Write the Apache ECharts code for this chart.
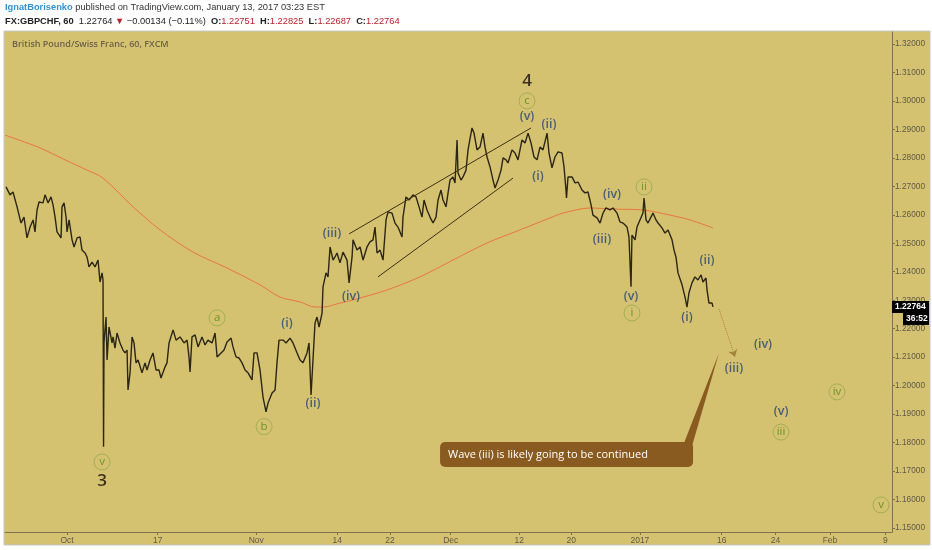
<!DOCTYPE html>
<html><head><meta charset="utf-8">
<script src="https://cdn.jsdelivr.net/npm/echarts@6/dist/echarts.min.js"></script>
<style>html,body{margin:0;padding:0;background:#fff}#c{width:932px;height:550px}</style>
</head><body><div id="c"></div><script>
// trading-day index (0 = Oct 3, 2016) and hourly price samples
const priceDays = [-6.93,-6.48,-6.14,-5.68,-5.23,-4.89,-4.55,-4.20,-3.86,-3.64,-3.41,-3.18,-2.73,-2.50,-2.16,-1.82,-1.59,-1.36,-1.14,-0.68,-0.57,-0.34,-0.11,0,0.23,0.57,0.80,1.14,1.48,1.70,2.05,2.27,2.50,2.84,3.18,3.52,3.75,3.98,4.09,4.15,4.20,4.43,4.55,4.77,5.11,5.23,5.45,5.68,6.02,6.36,6.59,6.82,6.93,7.16,7.39,7.61,7.84,8.07,8.52,8.86,9.09,9.43,9.77,10.11,10.45,10.68,11.14,11.36,11.59,12.05,12.39,12.84,13.30,13.64,13.86,13.98,14.20,14.55,14.89,15.34,15.68,16.02,16.48,16.82,17.05,17.50,17.84,18.18,18.64,18.86,19.20,19.55,19.89,20.23,20.57,21.02,21.25,21.59,21.93,22.27,22.61,22.84,23.30,23.64,23.86,24.09,24.55,24.89,25.34,25.68,26.14,26.48,26.82,27.27,27.50,27.73,27.95,28.18,28.41,28.64,28.98,29.09,29.43,29.66,29.89,30.23,30.45,30.68,31.02,31.36,31.82,32.05,32.39,32.50,32.95,33.30,33.64,34.09,34.43,34.77,35.00,35.23,35.57,35.91,36.25,36.48,36.93,37.27,37.61,38.07,38.18,38.52,38.86,39.32,39.66,40.00,40.34,40.57,40.91,41.25,41.59,41.93,42.16,42.50,42.73,43.07,43.30,43.52,43.86,44.09,44.32,44.43,44.77,45.00,45.34,45.57,46.02,46.25,46.59,46.93,47.27,47.50,47.73,48.07,48.41,48.64,48.98,49.32,49.55,49.89,50.11,50.57,50.91,51.25,51.70,52.05,52.39,52.73,53.07,53.41,53.75,54.09,54.55,54.77,55.11,55.45,55.80,56.25,56.48,56.70,56.76,56.93,57.39,57.73,58.07,58.52,58.86,59.20,59.55,59.77,60.23,60.57,60.91,61.25,61.70,62.05,62.50,62.84,63.18,63.64,63.86,64.09,64.20,64.55,64.77,65.11,65.45,65.57,65.80,66.02,66.36,66.59,66.93,67.16,67.61,67.95,68.30,68.75,68.98,69.20,69.43,69.89,70.23,70.45,70.68,71.02,71.36,71.70,72.05,72.27,72.61,72.73,72.95,73.30,73.41];
const priceValues = [1.2698,1.2670,1.2680,1.2628,1.2571,1.2592,1.2519,1.2557,1.2582,1.2540,1.2617,1.2645,1.2642,1.2670,1.2642,1.2663,1.2635,1.2592,1.2540,1.2519,1.2628,1.2642,1.2592,1.2540,1.2582,1.2512,1.2487,1.2519,1.2522,1.2476,1.2466,1.2452,1.2417,1.2434,1.2417,1.2441,1.2364,1.2396,1.2371,1.1785,1.2150,1.2241,1.2090,1.2206,1.2150,1.2171,1.2132,1.2185,1.2150,1.2125,1.2115,1.2125,1.1985,1.2045,1.2171,1.2150,1.2080,1.2090,1.2045,1.2080,1.2055,1.2090,1.2115,1.2055,1.2055,1.2027,1.2066,1.2080,1.2150,1.2196,1.2160,1.2171,1.2150,1.2160,1.2101,1.2048,1.2171,1.2178,1.2136,1.2171,1.2143,1.2160,1.2150,1.2185,1.2101,1.2115,1.2125,1.2153,1.2167,1.2136,1.2101,1.2097,1.2080,1.2055,1.2045,1.2020,1.2115,1.2115,1.2055,1.1960,1.1908,1.1939,1.1974,1.1985,1.2080,1.2160,1.2160,1.2150,1.2167,1.2150,1.2115,1.2090,1.2080,1.2115,1.2150,1.1967,1.2090,1.2220,1.2241,1.2206,1.2255,1.2347,1.2396,1.2382,1.2487,1.2441,1.2452,1.2466,1.2431,1.2469,1.2441,1.2361,1.2452,1.2512,1.2476,1.2487,1.2441,1.2487,1.2505,1.2512,1.2557,1.2466,1.2476,1.2441,1.2582,1.2610,1.2606,1.2571,1.2557,1.2522,1.2592,1.2663,1.2652,1.2670,1.2663,1.2628,1.2592,1.2652,1.2617,1.2592,1.2571,1.2592,1.2652,1.2687,1.2652,1.2628,1.2677,1.2722,1.2733,1.2712,1.2863,1.2747,1.2722,1.2733,1.2757,1.2828,1.2905,1.2887,1.2828,1.2838,1.2887,1.2838,1.2803,1.2768,1.2722,1.2694,1.2722,1.2757,1.2800,1.2793,1.2782,1.2828,1.2817,1.2793,1.2863,1.2852,1.2887,1.2852,1.2803,1.2793,1.2838,1.2828,1.2887,1.2817,1.2765,1.2803,1.2821,1.2817,1.2768,1.2687,1.2659,1.2733,1.2733,1.2712,1.2715,1.2687,1.2677,1.2680,1.2635,1.2599,1.2589,1.2571,1.2606,1.2624,1.2617,1.2624,1.2606,1.2575,1.2571,1.2557,1.2522,1.2347,1.2529,1.2512,1.2557,1.2582,1.2606,1.2659,1.2582,1.2571,1.2592,1.2606,1.2582,1.2571,1.2554,1.2536,1.2547,1.2512,1.2476,1.2452,1.2396,1.2354,1.2311,1.2276,1.2326,1.2361,1.2382,1.2371,1.2389,1.2364,1.2378,1.2336,1.2290,1.2290,1.22764];
const maDays = [-7.05,-3.07,-0.23,2.27,4.09,7.50,10.57,14.32,18.18,21.93,24.20,26.48,28.18,29.09,31.02,32.50,36.36,40.11,43.86,47.73,51.48,54.89,56.36,59.43,62.05,65.45,68.52,70.80,73.41];
const maValues = [1.2880,1.2835,1.2793,1.2757,1.2729,1.2628,1.2547,1.2469,1.2413,1.2354,1.2311,1.2294,1.2276,1.2276,1.2290,1.2301,1.2336,1.2382,1.2441,1.2501,1.2547,1.2589,1.2606,1.2624,1.2620,1.2617,1.2599,1.2582,1.2554];
const xTickDays = [0,10.3,21.5,30.7,36.7,43.6,51.4,57.3,65.1,74.4,80.5,86.7,93];
const xTickLabels = ['Oct','17','Nov','14','22','Dec','12','20','2017','16','24','Feb','9'];
const yTicks = [1.15,1.16,1.17,1.18,1.19,1.20,1.21,1.22,1.23,1.24,1.25,1.26,1.27,1.28,1.29,1.30,1.31,1.32];
const blueLabels = [['(v)',52.27,1.2944],['(ii)',54.77,1.2919],['(i)',53.52,1.2733],['(iii)',30.11,1.2536],['(iv)',32.27,1.2315],['(i)',25.00,1.2217],['(ii)',27.95,1.1936],['(iv)',61.93,1.2670],['(iii)',60.80,1.2512],['(v)',64.09,1.2315],['(i)',70.45,1.2238],['(ii)',72.73,1.2438],['(iii)',75.80,1.2059],['(iv)',79.09,1.2146],['(v)',81.14,1.1911]];
const greenLabels = [['c',52.27,1.3000],['a',17.05,1.2238],['b',22.39,1.1856],['v',3.98,1.1732],['ii',65.57,1.2698],['i',64.20,1.2255],['iii',81.14,1.1837],['iv',87.50,1.1978],['v',92.50,1.1581]];
const bigLabels = [['4',52.27,1.3070],['3',3.98,1.1665]];
const channelUpper = [[32.05,1.2533],[52.73,1.2905]];
const channelLower = [[35.34,1.2382],[50.68,1.2729]];
const arrowPath = [[74.09,1.2269],[75.91,1.2101]];
const calloutText = 'Wave (iii) is likely going to be continued';
const calloutBox = [42.39,1.1802,71.14,1.1714]; // left day, top price, right day, bottom price
const calloutTip = [74.09,1.2115];
const lastPrice = 1.22764;
const countdown = '36:52';

const GOLD = '#d5c270', AXIS = '#7b7253', LBL = '#5f5a48';
const chart = echarts.init(document.getElementById('c'));
const zip = (a,b) => a.map((v,i)=>[v,b[i]]);
const HF = '9.3px "Liberation Sans"', HFB = 'bold 9.3px "Liberation Sans"';
const baseGraphic = [
  {id:'pane',type:'rect',z:-10,silent:true,shape:{x:4,y:31,width:926,height:514},style:{fill:GOLD,stroke:'#c4c7cf',lineWidth:1}},
  {id:'h1',type:'text',left:5,top:3,silent:true,style:{font:HF,fill:'#333',
    text:'{u|IgnatBorisenko} published on TradingView.com, January 13, 2017 03:23 EST',
    rich:{u:{fill:'#2f93d6',font:HFB}}}},
  {id:'h2',type:'text',left:5,top:17,silent:true,style:{font:HF,fill:'#222',
    text:'{b|FX:GBPCHF, 60}  1.22764 {r|▼} −0.00134 (−0.11%)  {b|O:}{r|1.22751}  {b|H:}{r|1.22825}  {b|L:}{r|1.22687}  {b|C:}{r|1.22764}',
    rich:{b:{font:HFB,fill:'#222'},r:{font:HF,fill:'#b8202c'}}}},
  {id:'pt',type:'text',left:12,top:40,silent:true,style:{text:'British Pound/Swiss Franc, 60, FXCM',font:'600 9px "Open Sans"',fill:'#6b6345'}}
];
chart.setOption({
  backgroundColor:'#ffffff',
  animation:false,
  grid:{left:5,right:40,top:32,bottom:18},
  xAxis:{type:'value',min:-7.05,max:93.75,splitLine:{show:false},
    axisLine:{onZero:false,lineStyle:{color:AXIS}},
    axisTick:{show:true,length:3,lineStyle:{color:AXIS},customValues:xTickDays},
    axisLabel:{customValues:xTickDays,color:LBL,fontSize:8.5,fontFamily:'Liberation Sans',margin:4,
      formatter:v=>{let bi=0;xTickDays.forEach((d,i)=>{if(Math.abs(d-v)<Math.abs(xTickDays[bi]-v))bi=i;});return xTickLabels[bi];}}},
  yAxis:{type:'value',position:'right',min:1.1486,max:1.3242,scale:true,splitLine:{show:false},
    axisLine:{show:true,onZero:false,lineStyle:{color:AXIS}},
    axisTick:{show:true,length:3,lineStyle:{color:AXIS},customValues:yTicks},
    axisLabel:{customValues:yTicks,color:LBL,fontSize:8.3,fontFamily:'Liberation Sans',margin:3,formatter:v=>v.toFixed(5)}},
  graphic:baseGraphic,
  series:[
    {type:'line',data:zip(maDays,maValues),symbol:'none',smooth:0.3,lineStyle:{color:'#e8773f',width:1},silent:true,z:2},
    {type:'line',data:zip(priceDays,priceValues),symbol:'none',lineStyle:{color:'#2b2616',width:1.4},silent:true,z:3},
    {type:'line',data:channelUpper,symbol:'none',lineStyle:{color:'#3d3010',width:1},silent:true,z:3},
    {type:'line',data:channelLower,symbol:'none',lineStyle:{color:'#3d3010',width:1},silent:true,z:3},
    {type:'lines',coordinateSystem:'cartesian2d',data:[{coords:arrowPath}],symbol:['none','arrow'],symbolSize:7,
      lineStyle:{color:'#a5843a',width:1,type:'dotted',opacity:1},silent:true,z:3},
    {type:'custom',coordinateSystem:'cartesian2d',silent:true,z:4,
      data:[[calloutBox[0],calloutBox[1],calloutBox[2],calloutBox[3],calloutTip[0],calloutTip[1]]],
      encode:{x:[0,2,4],y:[1,3,5]},
      renderItem:(params,api)=>{
        const p1=api.coord([api.value(0),api.value(1)]);
        const p2=api.coord([api.value(2),api.value(3)]);
        const tip=api.coord([api.value(4),api.value(5)]);
        return {type:'group',children:[
          {type:'polygon',shape:{points:[[p2[0]-9,p1[1]+1],[p2[0]-1,p1[1]+4],tip]},style:{fill:'#8a5b20'}},
          {type:'rect',shape:{x:p1[0],y:p1[1],width:p2[0]-p1[0],height:p2[1]-p1[1],r:5},style:{fill:'#8a5b20'}},
          {type:'text',style:{text:calloutText,x:p1[0]+8,y:(p1[1]+p2[1])/2,verticalAlign:'middle',fill:'#fff',font:'11px "Open Sans"'}}
        ]};
      }},
    {type:'scatter',silent:true,z:5,symbol:'circle',symbolSize:1,itemStyle:{color:'rgba(0,0,0,0)'},
      data:blueLabels.map(l=>[l[1],l[2],l[0]]),
      label:{show:true,position:'inside',formatter:p=>p.value[2],color:'#24457a',fontSize:12.5,fontWeight:600,fontFamily:'Open Sans'}},
    {type:'scatter',silent:true,z:5,symbol:'circle',symbolSize:16,itemStyle:{color:'rgba(0,0,0,0)',borderColor:'#93a94f',borderWidth:1},
      data:greenLabels.map(l=>[l[1],l[2],l[0]]),
      label:{show:true,position:'inside',formatter:p=>p.value[2],color:'#4f8a12',fontSize:11.5,fontFamily:'Open Sans'}},
    {type:'scatter',silent:true,z:5,symbol:'circle',symbolSize:1,itemStyle:{color:'rgba(0,0,0,0)'},
      data:bigLabels.map(l=>[l[1],l[2],l[0]]),
      label:{show:true,position:'inside',formatter:p=>p.value[2],color:'#140c02',fontSize:17,fontWeight:600,fontFamily:'Open Sans'}}
  ]
});
const yp = chart.convertToPixel({yAxisIndex:0}, lastPrice);
const xr = chart.convertToPixel({xAxisIndex:0}, 93.75);
chart.setOption({graphic:baseGraphic.concat([
  {id:'pb1',type:'rect',silent:true,z:20,shape:{x:xr,y:yp-6,width:37,height:12},style:{fill:'#000'}},
  {id:'pt1',type:'text',silent:true,z:21,x:xr+3,y:yp,style:{text:lastPrice.toFixed(5),font:'bold 8.5px "Liberation Sans"',fill:'#fff',verticalAlign:'middle'}},
  {id:'pb2',type:'rect',silent:true,z:20,shape:{x:xr+11,y:yp+6,width:26,height:12},style:{fill:'#000'}},
  {id:'pt2',type:'text',silent:true,z:21,x:xr+14,y:yp+12,style:{text:countdown,font:'bold 8.5px "Liberation Sans"',fill:'#fff',verticalAlign:'middle'}}
])});
</script></body></html>
